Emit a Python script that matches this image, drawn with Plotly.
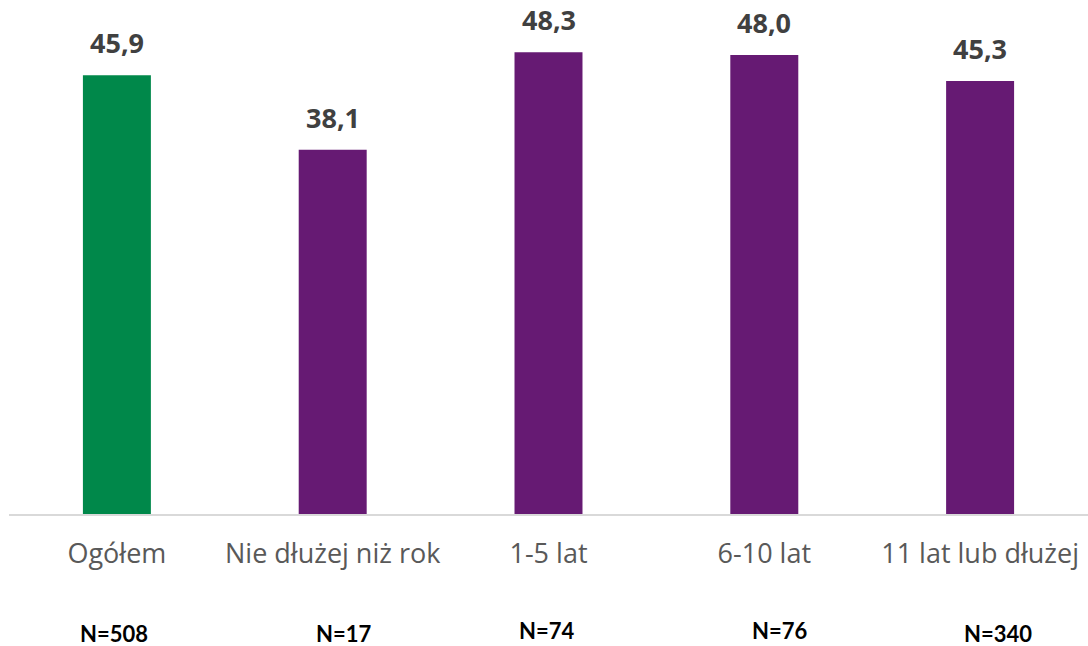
import plotly.graph_objects as go

categories = ["Ogółem", "Nie dłużej niż rok", "1-5 lat", "6-10 lat", "11 lat lub dłużej"]
values = [45.9, 38.1, 48.3, 48.0, 45.3]
value_labels = ["45,9", "38,1", "48,3", "48,0", "45,3"]
n_labels = ["N=508", "N=17", "N=74", "N=76", "N=340"]
colors = ["#00884A", "#661A73", "#661A73", "#661A73", "#661A73"]

fig = go.Figure()
fig.add_trace(go.Bar(x=categories, y=values, marker=dict(color=colors, line=dict(width=0)),
                     hoverinfo="skip"))

for c, v, t in zip(categories, values, value_labels):
    fig.add_annotation(x=c, y=v, text="<b>" + t + "</b>", showarrow=False,
                       yanchor="bottom", yshift=12,
                       font=dict(family="Open Sans", size=27, color="#404040"))

n_y = [-0.249, -0.251, -0.243, -0.243, -0.249]
n_dx = [-3, 11, -2, 15, 18]
for c, t, yy, dx in zip(categories, n_labels, n_y, n_dx):
    fig.add_annotation(x=c, y=yy, yref="paper", text="<b>" + t + "</b>", showarrow=False,
                       xshift=dx, yanchor="middle",
                       font=dict(family="Lato", size=22, color="#000000"))

fig.update_layout(
    width=1088, height=646,
    margin=dict(l=9, r=0, t=36, b=132),
    paper_bgcolor="white", plot_bgcolor="white",
    bargap=0.685, showlegend=False,
    xaxis=dict(showline=True, linecolor="#D9D9D9", linewidth=2, ticks="",
               tickfont=dict(family="Open Sans", size=27, color="#595959"),
               ticklabelstandoff=15, showgrid=False, fixedrange=True),
    yaxis=dict(range=[0, 50], visible=False, showgrid=False, fixedrange=True),
)

fig.write_html("out.html", config={"displayModeBar": False},
               post_script="document.body.style.margin='0';document.body.style.overflow='hidden';")
